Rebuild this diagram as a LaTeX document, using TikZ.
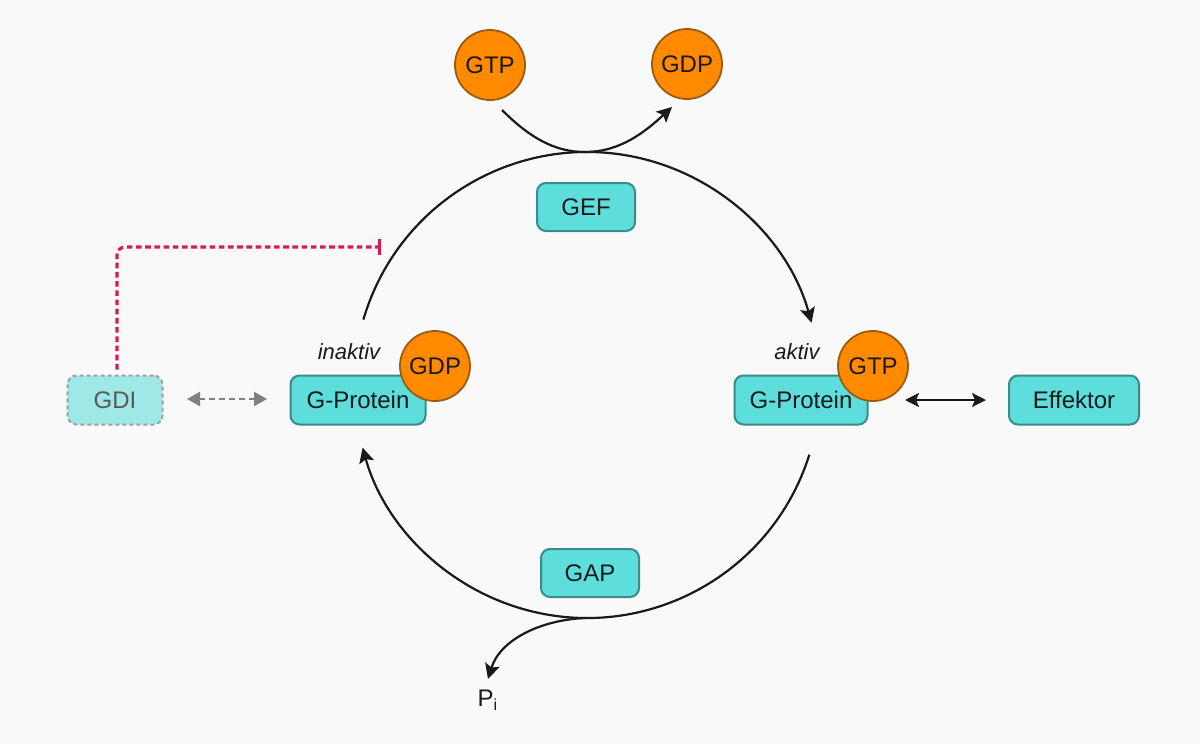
\documentclass[tikz,border=0pt]{standalone}
\usepackage{fontspec}
\setmainfont{Liberation Sans}
\usetikzlibrary{arrows.meta}
\definecolor{bg}{HTML}{F9F9F9}
\definecolor{teal1}{HTML}{5EDDDD}
\definecolor{teal2}{HTML}{3A8C8C}
\definecolor{gdifill}{HTML}{9EE8E8}
\definecolor{orng}{HTML}{FF8A00}
\definecolor{orngb}{HTML}{9C5B14}
\definecolor{inhib}{HTML}{D81B55}
\definecolor{txt}{HTML}{1A1A1A}
\begin{document}
\begin{tikzpicture}[x=0.5pt,y=-0.5pt,
  box/.style={draw=teal2,fill=teal1,line width=1pt,rounded corners=4.5pt,font=\fontsize{12}{14}\selectfont,text=txt,inner sep=0pt},
  nuc/.style={circle,draw=orngb,fill=orng,line width=0.9pt,minimum size=35pt,inner sep=0pt,font=\fontsize{12}{14}\selectfont,text=txt},
  tip/.style={Stealth[length=7.5pt,width=7.5pt,inset=1.5pt]},
  flow/.style={line width=1.1pt,draw=txt,-{Stealth[length=7.5pt,width=7.5pt,inset=1.5pt]}},
  lbl/.style={font=\fontsize{11}{13}\selectfont\itshape,text=txt}]
\fill[bg] (0,0) rectangle (1200,744);
\useasboundingbox (0,0) rectangle (1200,744);
\coordinate (c) at (587,385);

% boxes
\node[box,minimum width=49pt,minimum height=24pt] (gef) at (586,207) {GEF};
\node[box,minimum width=49pt,minimum height=24pt] (gap) at (590,573) {GAP};
\node[box,minimum width=67.5pt,minimum height=24.5pt] (gpl) at (358,400) {G-Protein};
\node[box,minimum width=66.5pt,minimum height=24.5pt] (gpr) at (801,400) {G-Protein};
\node[box,minimum width=65pt,minimum height=24.5pt] (eff) at (1074,400) {Effektor};
\node[box,draw=gray!75,fill=gdifill,dash pattern=on 2pt off 1.5pt,text=black!65,minimum width=47.5pt,minimum height=24.5pt] (gdi) at (115,400) {GDI};

% nucleotides
\node[nuc] (gtptop) at (490,65) {GTP};
\node[nuc] (gdptop) at (687,64) {GDP};
\node[nuc] (gdpl) at (435,366) {GDP};
\node[nuc] (gtpr) at (873,366) {GTP};

% labels
\node[lbl] (inak) at (349,352) {inaktiv};
\node[lbl] (akt) at (797,352) {aktiv};
\node[font=\fontsize{12}{14}\selectfont,text=txt] (pi) at (488,700) {P\textsubscript{i}};

% cycle arcs
\draw[flow] (c) ++(196.3:233) arc[start angle=196.3,end angle=344.5,radius=233];
\draw[flow] (c) ++(17.4:233) arc[start angle=17.4,end angle=164.4,radius=233];

% exchange curve
\coordinate (ex0) at (502,110);
\coordinate (exm) at (585,152);
\coordinate (ex1) at (672,107);
\draw[flow] (ex0) .. controls (530,138) and (555,152) .. (exm) .. controls (620,152) and (645,132) .. (ex1);

% Pi release
\coordinate (pr0) at (585,618);
\coordinate (pr1) at (488,679);
\draw[flow] (pr0) .. controls (540,620) and (500,640) .. (pr1);

% effector double arrow
\coordinate (ea) at (905,400);
\coordinate (eb) at (986,400);
\draw[line width=1.1pt,draw=txt,{Stealth[length=7pt,width=7pt,inset=1.5pt]}-{Stealth[length=7pt,width=7pt,inset=1.5pt]}] (ea) -- (eb);

% GDI dashed double arrow
\coordinate (da) at (187,399);
\coordinate (db) at (267,399);
\draw[line width=1.2pt,draw=gray,dash pattern=on 3pt off 2pt,{Triangle[length=6.5pt,width=7pt]}-{Triangle[length=6.5pt,width=7pt]}] (da) -- (db);

% inhibition
\coordinate (inh) at (381,247);
\draw[inhib,line width=1.6pt,dash pattern=on 2.8pt off 1.8pt,rounded corners=4pt,-{Bar[width=8pt,line width=1.6pt]}] ([yshift=2.5pt]gdi.north -| 117,0) |- (inh);
\end{tikzpicture}
\end{document}
